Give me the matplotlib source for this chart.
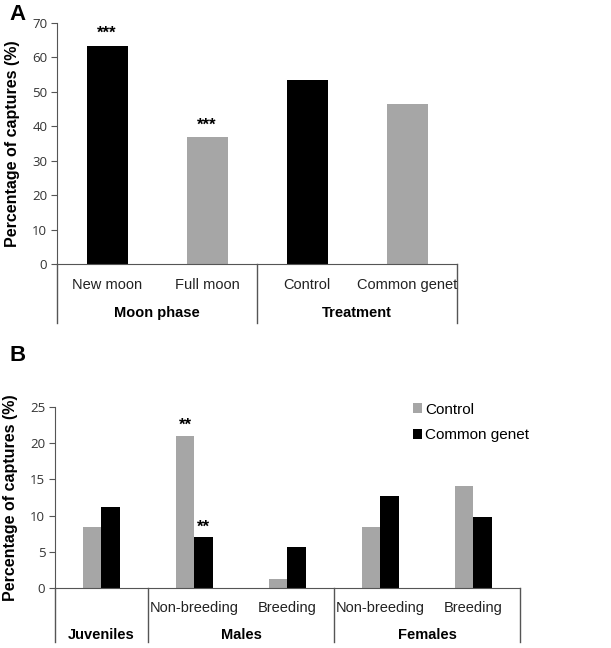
import numpy as np
import matplotlib
matplotlib.use("Agg")
from matplotlib import pyplot as plt
from matplotlib.transforms import blended_transform_factory as blend

plt.rcParams['font.family'] = ['Liberation Sans', 'DejaVu Sans']

# panel A data
a_labels = ["New moon", "Full moon", "Control", "Common genet"]
a_values = [63.3, 36.7, 53.5, 46.5]
a_groups = ["Moon phase", "Treatment"]
a_stars = ["***", "***", "", ""]

# panel B data
b_labels = ["", "Non-breeding", "Breeding", "Non-breeding", "Breeding"]
b_groups = ["Juveniles", "Males", "Females"]
b_control = [8.4, 21.0, 1.25, 8.4, 14.05]
b_genet = [11.2, 7.0, 5.65, 12.65, 9.85]
b_stars_control = ["", "**", "", "", ""]
b_stars_genet = ["", "**", "", "", ""]

GRAY = "#a6a6a6"
tickfont = {"family": "Open Sans", "size": 9.5, "color": "#333333"}

fig = plt.figure(figsize=(6.11, 6.48), dpi=100)

def style(ax, ymax, step):
    ax.spines["top"].set_visible(False)
    ax.spines["right"].set_visible(False)
    ax.spines["left"].set_color("#555555")
    ax.spines["bottom"].set_color("#555555")
    ax.set_ylim(0, ymax)
    ax.set_yticks(np.arange(0, ymax + 1, step))
    ax.set_yticklabels([str(int(v)) for v in np.arange(0, ymax + 1, step)], fontdict=tickfont)
    ax.tick_params(axis="y", length=4, color="#555555", pad=3)
    ax.set_xticks([])
    ax.set_ylabel("Percentage of captures (%)", fontsize=11.5, fontweight="bold", labelpad=9)

def group_lines(ax, xs, bottom):
    tr = blend(ax.transData, ax.transAxes)
    for x in xs:
        ax.plot([x, x], [0, bottom], color="#555555", lw=1, transform=tr, clip_on=False)

# ---- panel A
ax1 = fig.add_axes([0.0933, 0.5926, 0.655, 0.3724])
xa = np.arange(len(a_values)) + 0.5
ax1.bar(xa, a_values, width=0.41, color=["black", GRAY, "black", GRAY])
ax1.set_xlim(0, 4)
style(ax1, 70, 10)
for x, v, s in zip(xa, a_values, a_stars):
    if s:
        ax1.text(x, v + 1.5, s, ha="center", va="bottom", fontsize=12, fontweight="bold")
tr1 = blend(ax1.transData, ax1.transAxes)
for x, lab in zip(xa, a_labels):
    ax1.text(x, -0.085, lab, ha="center", va="center", fontsize=10.5, transform=tr1, color="#222222")
for x, g in zip([1, 3], a_groups):
    ax1.text(x, -0.205, g, ha="center", va="center", fontsize=10.5, fontweight="bold", transform=tr1)
group_lines(ax1, [0, 2, 4], -0.245)
fig.text(0.015, 0.977, "A", fontsize=16, fontweight="bold", va="center")

# ---- panel B
ax2 = fig.add_axes([0.090, 0.0926, 0.761, 0.2794])
xb = np.arange(len(b_control)) + 0.5
w = 0.2
ax2.bar(xb - w / 2, b_control, width=w, color=GRAY, label="Control")
ax2.bar(xb + w / 2, b_genet, width=w, color="black", label="Common genet")
ax2.set_xlim(0, 5)
style(ax2, 25, 5)
for x, v, s in zip(xb - w / 2, b_control, b_stars_control):
    if s:
        ax2.text(x, v + 0.4, s, ha="center", va="bottom", fontsize=12, fontweight="bold")
for x, v, s in zip(xb + w / 2, b_genet, b_stars_genet):
    if s:
        ax2.text(x, v + 0.4, s, ha="center", va="bottom", fontsize=12, fontweight="bold")
tr2 = blend(ax2.transData, ax2.transAxes)
for x, lab in zip(xb, b_labels):
    if lab:
        ax2.text(x, -0.11, lab, ha="center", va="center", fontsize=10.5, transform=tr2, color="#222222")
for x, g in zip([0.5, 2, 4], b_groups):
    ax2.text(x, -0.26, g, ha="center", va="center", fontsize=10.5, fontweight="bold", transform=tr2)
group_lines(ax2, [0, 1, 3, 5], -0.30)
ax2.legend(loc="upper left", bbox_to_anchor=(0.74, 1.10), frameon=False, fontsize=11,
           handlelength=0.6, handleheight=0.6, handletextpad=0.2, labelspacing=0.75)
fig.text(0.015, 0.452, "B", fontsize=16, fontweight="bold", va="center")

fig.savefig("out.png", dpi=100)
